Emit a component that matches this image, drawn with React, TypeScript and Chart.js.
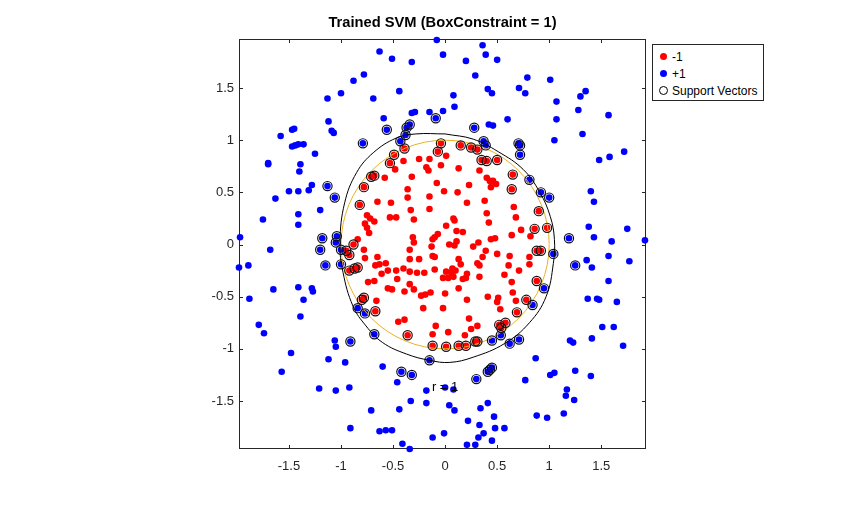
import { useEffect, useRef } from 'react';
import { Chart, registerables } from 'chart.js';

Chart.register(...registerables);

type Pt = [number, number];

// axis limits (tight, axis equal)
const X_RANGE: Pt = [-1.98, 1.93];
const Y_RANGE: Pt = [-1.96, 1.97];
const TICKS = [-1.5, -1, -0.5, 0, 0.5, 1, 1.5];
const TICK_LABELS = ['-1.5', '-1', '-0.5', '0', '0.5', '1', '1.5'];

const TITLE = 'Trained SVM (BoxConstraint = 1)';
const LEGEND = ['-1', '+1', 'Support Vectors'];

// class -1 (inside the disk), not support vectors
const RED: Pt[] = [
  [-0.40, 0.80], [-0.48, 0.72], [-0.58, 0.64], [-0.25, 0.82], [-0.32, 0.65], [-0.18, 0.74],
  [-0.16, 0.71], [-0.15, 0.82], [-0.04, 0.76], [-0.08, 0.59], [-0.01, 0.51], [-0.36, 0.53],
  [-0.36, 0.45], [-0.15, 0.46], [-0.65, 0.41], [-0.52, 0.40], [-0.33, 0.33], [-0.15, 0.34],
  [-0.75, 0.28], [-0.72, 0.25], [-0.68, 0.22], [-0.77, 0.20], [-0.75, 0.16], [-0.73, 0.11],
  [-0.53, 0.26], [-0.47, 0.26], [-0.30, 0.24], [-0.10, 0.07], [-0.12, 0.05], [-0.31, 0.07],
  [-0.30, 0.02], [0.01, 0.18], [-0.07, 0.10], [-0.84, 0.05],
  [0.01, 0.85], [0.13, 0.73], [0.33, 0.71], [0.40, 0.64], [0.43, 0.61], [0.46, 0.61],
  [0.49, 0.58], [0.44, 0.55], [0.23, 0.57], [0.12, 0.50], [0.21, 0.40], [0.38, 0.42],
  [0.66, 0.36], [0.40, 0.30], [0.68, 0.26], [0.08, 0.25], [0.09, 0.23], [0.42, 0.21],
  [0.11, 0.13], [0.17, 0.12], [0.73, 0.14], [0.64, 0.09], [0.82, 0.08], [0.44, 0.05],
  [0.48, 0.06], [0.32, 0.02], [0.11, 0.03], [0.04, 0.00], [0.09, -0.01], [0.27, -0.02],
  [-0.78, -0.05], [-0.77, -0.13], [-0.65, -0.12], [-0.67, -0.20], [-0.63, -0.19], [-0.57, -0.18],
  [-0.55, -0.25], [-0.61, -0.28], [-0.47, -0.25], [-0.40, -0.23], [-0.46, -0.33], [-0.74, -0.36],
  [-0.68, -0.35], [-0.34, -0.05], [-0.34, -0.14], [-0.25, -0.14], [-0.34, -0.26], [-0.27, -0.27],
  [-0.20, -0.27], [-0.34, -0.38], [-0.30, -0.43], [-0.39, -0.45], [-0.55, -0.42], [-0.51, -0.43],
  [-0.66, -0.54], [-0.23, -0.49], [-0.19, -0.48], [-0.14, -0.46], [-0.21, -0.61], [-0.12, -0.11],
  [-0.10, -0.12], [-0.13, -0.02], [-0.10, -0.24], [-0.02, -0.32], [0.00, -0.47], [-0.02, -0.61],
  [-0.45, -0.74], [-0.39, -0.72], [-0.09, -0.78], [-0.12, -0.86],
  [0.13, -0.14], [0.15, -0.19], [0.07, -0.23], [0.10, -0.25], [0.06, -0.27], [0.01, -0.26],
  [0.03, -0.32], [0.08, -0.31], [0.17, -0.33], [0.20, -0.32], [0.21, -0.28], [0.13, -0.42],
  [0.21, -0.53], [0.31, -0.18], [0.33, -0.20], [0.36, -0.12], [0.39, -0.06], [0.50, -0.09],
  [0.62, -0.11], [0.61, -0.20], [0.71, -0.25], [0.81, -0.19], [0.81, -0.12], [0.57, -0.29],
  [0.33, -0.31], [0.64, -0.36], [0.65, -0.46], [0.41, -0.50], [0.51, -0.51], [0.50, -0.55],
  [0.68, -0.54], [0.53, -0.62], [0.23, -0.71], [0.31, -0.78], [0.25, -0.81], [0.03, -0.84],
  [0.19, -0.87],
];

// class -1, support vectors
const RED_SV: Pt[] = [
  [-0.39, 0.92], [-0.49, 0.86], [-0.53, 0.78], [-0.71, 0.65], [-0.68, 0.66], [-0.78, 0.55],
  [-0.82, 0.38], [-0.04, 0.97], [-0.07, 0.89], [-0.88, 0.00],
  [0.15, 0.95], [0.25, 0.93], [0.31, 0.91], [0.35, 0.81], [0.40, 0.80], [0.50, 0.81],
  [0.65, 0.67], [0.64, 0.53], [0.90, 0.32], [0.86, 0.15], [0.98, 0.16],
  [0.88, -0.06], [0.92, -0.06], [0.88, -0.35], [0.78, -0.53], [0.69, -0.65], [0.52, -0.77],
  [0.54, -0.80], [0.58, -0.75], [0.29, -0.93], [0.31, -0.93], [0.20, -0.97], [0.13, -0.97],
  [0.01, -0.98],
  [-0.95, -0.06], [-0.92, -0.10], [-0.84, -0.22], [-0.87, -0.23], [-0.92, -0.25], [-0.78, -0.51],
  [-0.80, -0.53], [-0.67, -0.64], [-0.36, -0.87], [-0.12, -0.97],
];

// class +1 (annulus), not support vectors
const BLUE: Pt[] = [
  [-0.08, 1.96], [-0.02, 1.82], [-0.63, 1.85], [-0.51, 1.78], [-0.32, 1.75], [-0.78, 1.63],
  [-0.88, 1.57], [-1.00, 1.45], [-1.13, 1.40], [-0.69, 1.40], [-0.44, 1.47], [-0.59, 1.21],
  [-0.32, 1.26], [-0.29, 1.27], [-0.15, 1.27], [-0.02, 1.28], [-1.12, 1.18], [-1.09, 1.09],
  [-1.07, 1.07], [-1.47, 1.10], [-1.45, 1.11], [-1.58, 1.04], [-1.47, 0.94], [-1.44, 0.95],
  [-1.41, 0.96], [-1.36, 0.96], [-1.25, 0.87], [-1.70, 0.78], [-1.70, 0.77], [-1.39, 0.77],
  [-1.40, 0.70], [-1.28, 0.57], [-1.31, 0.52], [-1.50, 0.51], [-1.41, 0.51], [-1.63, 0.44],
  [-1.20, 0.33], [-1.41, 0.29], [-1.41, 0.19], [-1.75, 0.24], [-1.97, 0.07],
  [0.36, 1.91], [0.39, 1.82], [0.20, 1.76], [0.50, 1.77], [0.29, 1.62], [0.79, 1.60],
  [1.01, 1.58], [0.41, 1.49], [0.45, 1.45], [0.71, 1.50], [0.77, 1.45], [0.08, 1.43],
  [0.09, 1.32], [1.07, 1.37], [1.35, 1.47], [1.30, 1.42], [1.28, 1.29], [1.57, 1.24],
  [0.60, 1.20], [0.42, 1.15], [0.46, 1.14], [1.07, 1.20], [1.32, 1.06], [1.05, 1.00],
  [1.48, 0.81], [1.58, 0.84], [1.72, 0.89], [1.40, 0.51], [1.43, 0.41], [1.38, 0.17],
  [1.43, 0.07], [1.60, 0.03], [1.75, 0.15], [1.92, 0.04],
  [1.36, -0.15], [1.41, -0.22], [1.57, -0.11], [1.77, -0.16], [1.57, -0.35], [1.37, -0.52],
  [1.46, -0.52], [1.48, -0.53], [1.65, -0.55], [1.51, -0.79], [1.62, -0.79], [1.41, -0.90],
  [1.71, -0.97], [1.20, -0.92], [1.23, -0.94], [0.87, -1.09], [0.77, -1.30], [1.01, -1.25],
  [1.05, -1.23], [1.25, -1.21], [1.40, -1.26], [1.17, -1.39], [1.16, -1.45], [1.24, -1.49],
  [1.14, -1.62], [0.88, -1.64], [0.98, -1.66], [0.41, -1.52], [0.34, -1.57], [0.09, -1.59],
  [0.04, -1.54], [0.08, -1.39], [0.00, -1.37], [0.47, -1.65], [0.22, -1.69], [0.33, -1.73],
  [0.48, -1.76], [0.57, -1.76], [0.37, -1.81], [0.32, -1.85], [0.45, -1.88], [-0.01, -1.81],
  [0.21, -1.92], [0.29, -1.92],
  [-1.68, -0.05], [-1.89, -0.20], [-1.98, -0.22], [-1.65, -0.43], [-1.88, -0.52], [-1.41, -0.41],
  [-1.36, -0.53], [-1.28, -0.42], [-1.27, -0.45], [-1.39, -0.69], [-1.79, -0.77], [-1.74, -0.85],
  [-1.48, -1.04], [-1.57, -1.22], [-1.21, -1.38], [-1.05, -1.40], [-1.12, -1.10], [-1.06, -0.92],
  [-1.05, -0.98], [-0.96, -1.13], [-0.92, -1.37], [-0.91, -1.76], [-0.71, -1.59], [-0.63, -1.79],
  [-0.57, -1.78], [-0.51, -1.78], [-0.60, -1.17], [-0.46, -1.32], [-0.44, -1.58], [-0.33, -1.50],
  [-0.18, -1.52], [-0.18, -1.40], [-0.41, -1.91], [-0.34, -1.96], [-0.12, -1.85],
];

// class +1, support vectors
const BLUE_SV: Pt[] = [
  [-0.56, 1.10], [-0.43, 0.99], [-0.38, 1.05], [-0.37, 1.12], [-0.34, 1.15], [-0.79, 0.97],
  [-0.09, 1.21], [-1.13, 0.56], [-1.06, 0.45], [-1.18, 0.06], [-1.04, 0.08], [-1.05, 0.02],
  [-1.20, -0.05], [-1.15, -0.20], [-1.00, -0.05], [-1.00, -0.19], [-0.84, -0.61], [-0.77, -0.66],
  [-0.68, -0.86], [-0.91, -0.93], [-0.42, -1.22], [-0.32, -1.25], [-0.15, -1.11], [0.30, -1.29],
  [0.41, -1.22], [0.43, -1.20], [0.45, -1.18], [0.45, -0.92], [0.535, -0.87], [0.62, -0.95],
  [0.71, -0.91], [0.84, -0.58], [0.95, -0.42], [1.04, -0.09], [1.25, -0.20], [1.19, 0.06],
  [1.00, 0.45], [0.92, 0.50], [0.81, 0.62], [0.72, 0.86], [0.705, 0.97], [0.72, 0.95],
  [0.37, 0.99], [0.39, 0.95], [0.28, 1.12],
];

// decision boundary (score = 0 contour), read around the loop starting at the top
const BOUNDARY: Pt[] = [
  [0.0, 1.06], [-0.28, 1.06], [-0.47, 1.02], [-0.69, 0.88], [-0.85, 0.69], [-0.965, 0.40],
  [-1.01, 0.02], [-0.98, -0.27], [-0.885, -0.59], [-0.76, -0.78], [-0.60, -0.94], [-0.37, -1.05],
  [-0.15, -1.11], [0.045, -1.13], [0.27, -1.08], [0.57, -0.95], [0.81, -0.75], [0.97, -0.50],
  [1.04, -0.18], [1.05, 0.05], [1.01, 0.27], [0.91, 0.50], [0.75, 0.72], [0.51, 0.89],
  [0.27, 1.01], [0.0, 1.06],
];

// ezpolar r = 1 circle and its label
const UNIT_R = 1;
const R_LABEL: Pt = [0, -1.37];
const R_TEXT = 'r = 1';

const RED_C = 'rgb(255,0,0)';
const BLUE_C = 'rgb(0,0,255)';
const ORANGE = 'rgb(237,177,32)';
const AXIS_C = '#262626';
const FONT = "'Liberation Sans', Arial, Helvetica, sans-serif";

const toXY = (pts: Pt[]) => pts.map(([x, y]) => ({ x, y }));

const matlabAxes = {
  id: 'matlabAxes',
  beforeDatasetsDraw(chart: any) {
    const { ctx, chartArea: a, scales } = chart;
    ctx.save();
    ctx.strokeStyle = AXIS_C;
    ctx.lineWidth = 1;
    ctx.strokeRect(a.left + 0.5, a.top + 0.5, a.right - a.left - 1, a.bottom - a.top - 1);
    ctx.beginPath();
    for (const v of TICKS) {
      const x = Math.round(scales.x.getPixelForValue(v)) + 0.5;
      ctx.moveTo(x, a.bottom); ctx.lineTo(x, a.bottom - 4);
      ctx.moveTo(x, a.top); ctx.lineTo(x, a.top + 4);
      const y = Math.round(scales.y.getPixelForValue(v)) + 0.5;
      ctx.moveTo(a.left, y); ctx.lineTo(a.left + 4, y);
      ctx.moveTo(a.right, y); ctx.lineTo(a.right - 4, y);
    }
    ctx.stroke();
    ctx.restore();
  },
  afterDatasetDraw(chart: any, args: any) {
    // r = 1 circle sits above the class dots, below the support vector rings
    if (args.index !== 1) return;
    const { ctx, scales } = chart;
    const cx = scales.x.getPixelForValue(0);
    const cy = scales.y.getPixelForValue(0);
    const rx = scales.x.getPixelForValue(UNIT_R) - cx;
    const ry = cy - scales.y.getPixelForValue(UNIT_R);
    ctx.save();
    ctx.strokeStyle = ORANGE;
    ctx.lineWidth = 1;
    ctx.beginPath();
    ctx.ellipse(cx, cy, rx, ry, 0, 0, Math.PI * 2);
    ctx.stroke();
    ctx.fillStyle = '#000';
    ctx.font = `13px ${FONT}`;
    ctx.textAlign = 'center';
    ctx.textBaseline = 'middle';
    ctx.fillText(R_TEXT, scales.x.getPixelForValue(R_LABEL[0]), scales.y.getPixelForValue(R_LABEL[1]));
    ctx.restore();
  },
};

const tickOpts = {
  color: AXIS_C,
  font: { family: FONT, size: 13 },
  callback: (v: any) => TICK_LABELS[TICKS.indexOf(Number(v))] ?? '',
};

export default function App() {
  const canvasRef = useRef<HTMLCanvasElement>(null);

  useEffect(() => {
    if (!canvasRef.current) return;
    const chart = new Chart(canvasRef.current, {
      type: 'scatter',
      data: {
        datasets: [
          {
            label: LEGEND[0],
            data: toXY([...RED, ...RED_SV]),
            pointRadius: 3.3,
            pointBackgroundColor: RED_C,
            pointBorderWidth: 0,
            order: 4,
            clip: false,
          },
          {
            label: LEGEND[1],
            data: toXY([...BLUE, ...BLUE_SV]),
            pointRadius: 3.3,
            pointBackgroundColor: BLUE_C,
            pointBorderWidth: 0,
            order: 3,
            clip: false,
          },
          {
            label: LEGEND[2],
            data: toXY([...RED_SV, ...BLUE_SV]),
            pointRadius: 4.6,
            pointBackgroundColor: 'rgba(0,0,0,0)',
            pointBorderColor: '#111',
            pointBorderWidth: 1.2,
            order: 2,
            clip: false,
          },
          {
            label: 'boundary',
            data: toXY(BOUNDARY),
            showLine: true,
            borderColor: '#000',
            borderWidth: 1,
            pointRadius: 0,
            tension: 0.4,
            order: 1,
          },
        ],
      },
      options: {
        animation: false,
        responsive: true,
        maintainAspectRatio: false,
        events: [],
        layout: { padding: { left: 199, right: 209, top: 39, bottom: 27 } },
        plugins: { legend: { display: false }, tooltip: { enabled: false } },
        scales: {
          x: {
            type: 'linear',
            min: X_RANGE[0],
            max: X_RANGE[1],
            grid: { display: false, drawTicks: false },
            border: { display: false },
            ticks: { ...tickOpts, padding: 10, maxRotation: 0 },
            afterBuildTicks: (s: any) => { s.ticks = TICKS.map((value) => ({ value })); },
            afterFit: (s: any) => { s.height = 30; },
          },
          y: {
            type: 'linear',
            min: Y_RANGE[0],
            max: Y_RANGE[1],
            grid: { display: false, drawTicks: false },
            border: { display: false },
            ticks: { ...tickOpts, padding: 5 },
            afterBuildTicks: (s: any) => { s.ticks = TICKS.map((value) => ({ value })); },
            afterFit: (s: any) => { s.width = 40; },
          },
        },
      },
      plugins: [matlabAxes],
    });
    return () => chart.destroy();
  }, []);

  const legendRow = (i: number, marker: JSX.Element) => (
    <div key={i} style={{ position: 'absolute', left: 0, top: 3 + i * 17, height: 17, display: 'flex', alignItems: 'center' }}>
      <div style={{ width: 14, marginLeft: 3, display: 'flex', justifyContent: 'center' }}>{marker}</div>
      <span style={{ marginLeft: 2 }}>{LEGEND[i]}</span>
    </div>
  );
  const dot = (c: string) => <span style={{ width: 7, height: 7, borderRadius: '50%', background: c, display: 'block' }} />;

  return (
    <div style={{ position: 'absolute', left: 0, top: 0, width: 855, height: 506, background: '#fff', fontFamily: FONT }}>
      <canvas ref={canvasRef} />
      <div style={{ position: 'absolute', left: 239, width: 407, top: 14, lineHeight: '17px', textAlign: 'center', fontWeight: 'bold', fontSize: 14.7, color: '#000' }}>
        {TITLE}
      </div>
      <div style={{ position: 'absolute', left: 652, top: 44, width: 112, height: 57, boxSizing: 'border-box', border: `1px solid ${AXIS_C}`, background: '#fff', fontSize: 12, color: '#000' }}>
        {legendRow(0, dot(RED_C))}
        {legendRow(1, dot(BLUE_C))}
        {legendRow(2, <span style={{ width: 9, height: 9, boxSizing: 'border-box', borderRadius: '50%', border: '1px solid #000', display: 'block' }} />)}
      </div>
    </div>
  );
}
